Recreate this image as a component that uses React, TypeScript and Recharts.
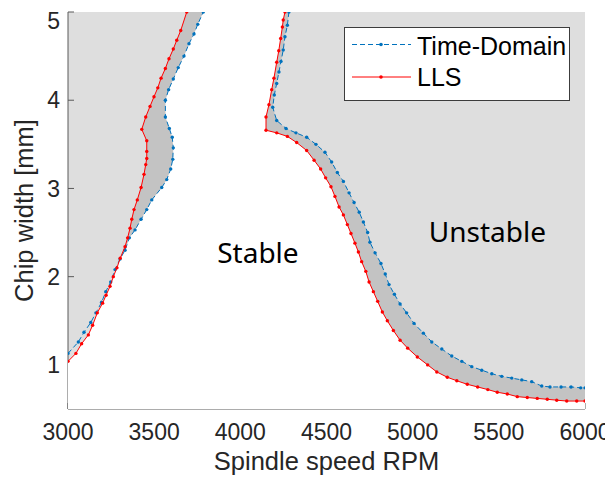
import { CartesianGrid, Legend, ReferenceDot, Scatter, ScatterChart, XAxis, YAxis } from 'recharts'

// stability lobes: [spindle speed rpm, chip width mm]
const llsLeft: [number, number][] = [
  [3000, 1.04], [3046, 1.13], [3079, 1.24], [3118, 1.34], [3143, 1.45], [3170, 1.59], [3201, 1.7],
  [3221, 1.79], [3244, 1.89], [3263, 2.0], [3284, 2.1], [3303, 2.21], [3331, 2.34], [3346, 2.44],
  [3360, 2.55], [3370, 2.65], [3383, 2.76], [3402, 2.87], [3424, 3.01], [3441, 3.16], [3451, 3.27],
  [3457, 3.34], [3457, 3.42], [3457, 3.54], [3428, 3.67], [3451, 3.81], [3476, 3.93], [3499, 4.04],
  [3521, 4.14], [3540, 4.25], [3565, 4.36], [3586, 4.47], [3611, 4.58], [3631, 4.68], [3654, 4.79],
  [3689, 5.0],
]

const tdLeft: [number, number][] = [
  [3000, 1.13], [3060, 1.26], [3093, 1.37], [3132, 1.48], [3162, 1.59], [3195, 1.71], [3219, 1.83],
  [3248, 1.94], [3273, 2.08], [3302, 2.2], [3331, 2.3], [3356, 2.44], [3389, 2.53], [3424, 2.65],
  [3457, 2.76], [3486, 2.87], [3544, 3.01], [3573, 3.1], [3596, 3.22], [3608, 3.33], [3611, 3.46],
  [3605, 3.58], [3588, 3.68], [3565, 3.81], [3565, 4.0], [3584, 4.12], [3611, 4.24], [3640, 4.37],
  [3673, 4.5], [3702, 4.64], [3731, 4.75], [3753, 4.86], [3785, 5.0],
]

const llsRight: [number, number][] = [
  [4259, 5.0], [4249, 4.91], [4244, 4.83], [4234, 4.7], [4223, 4.56], [4211, 4.43], [4195, 4.25],
  [4182, 4.12], [4166, 3.95], [4149, 3.81], [4149, 3.66], [4211, 3.63], [4273, 3.59], [4327, 3.52],
  [4385, 3.43], [4428, 3.32], [4466, 3.22], [4495, 3.12], [4526, 3.02], [4549, 2.91], [4573, 2.79],
  [4598, 2.7], [4621, 2.59], [4642, 2.49], [4665, 2.38], [4685, 2.28], [4704, 2.17], [4728, 2.06],
  [4747, 1.94], [4772, 1.83], [4797, 1.72], [4824, 1.6], [4853, 1.5], [4888, 1.39], [4927, 1.28],
  [4971, 1.19], [5027, 1.09], [5087, 1.0], [5140, 0.92], [5201, 0.86], [5256, 0.82], [5317, 0.78],
  [5377, 0.75], [5436, 0.72], [5491, 0.69], [5549, 0.67], [5607, 0.64], [5665, 0.63], [5723, 0.62],
  [5781, 0.61], [5836, 0.6], [5894, 0.59], [5952, 0.59], [6000, 0.59],
]

const tdRight: [number, number][] = [
  [4282, 5.0], [4273, 4.85], [4259, 4.72], [4249, 4.57], [4236, 4.44], [4224, 4.32], [4211, 4.19],
  [4197, 4.06], [4188, 3.92], [4211, 3.77], [4265, 3.68], [4323, 3.63], [4385, 3.58], [4439, 3.5],
  [4491, 3.41], [4530, 3.3], [4563, 3.18], [4598, 3.08], [4631, 2.95], [4660, 2.84], [4690, 2.73],
  [4714, 2.62], [4739, 2.5], [4752, 2.39], [4782, 2.27], [4816, 2.15], [4841, 2.03], [4863, 1.91],
  [4894, 1.8], [4927, 1.69], [4965, 1.59], [5008, 1.47], [5062, 1.36], [5111, 1.26], [5169, 1.18],
  [5227, 1.1], [5285, 1.04], [5343, 0.98], [5401, 0.94], [5459, 0.9], [5517, 0.87], [5575, 0.85],
  [5633, 0.83], [5691, 0.81], [5749, 0.76], [5797, 0.75], [5861, 0.75], [5919, 0.75], [5975, 0.74],
  [6000, 0.74],
]

const rpmRange = [3000, 6000]
const widthRange = [0.5, 5]
const rpmTicks = [3000, 3500, 4000, 4500, 5000, 5500, 6000]
const widthTicks = [1, 2, 3, 4, 5]
// below this width the two left-lobe predictions swap sides
const crossWidth = 2.2

const seriesNames = ['Time-Domain', 'LLS']
const regionLabels = [
  { text: 'Stable', rpm: 4102, width: 2.27 },
  { text: 'Unstable', rpm: 5434, width: 2.51 },
]

const TD_COLOR = '#0072BD'
const LLS_COLOR = '#FF0000'
const AXIS_COLOR = '#5a5a5a'
const TEXT_COLOR = '#262626'
const ARIAL = '"Liberation Sans", Arial, sans-serif'

type Pt = { rpm: number; width: number }
const pts = (c: [number, number][]): Pt[] => c.map(([rpm, width]) => ({ rpm, width }))

const stableRegion: Pt[] = [
  { rpm: rpmRange[0], width: widthRange[0] },
  ...pts(llsLeft.filter((p) => p[1] < crossWidth)),
  ...pts(tdLeft.filter((p) => p[1] >= crossWidth)),
  ...pts(llsRight),
  { rpm: rpmRange[1], width: widthRange[0] },
]
const bandLeft: Pt[] = [
  ...pts(llsLeft.filter((p) => p[1] >= crossWidth)),
  ...pts(tdLeft.filter((p) => p[1] >= crossWidth)).reverse(),
]
const bandRight: Pt[] = [...pts(llsRight), ...pts(tdRight).reverse()]

const noMarker = () => <g />
const marker = (color: string) => (p: any) => <circle cx={p.cx} cy={p.cy} r={1.7} fill={color} />

function LegendBox() {
  return (
    <svg width={226} height={74} style={{ display: 'block' }}>
      <rect x={0.5} y={0.5} width={225} height={73} fill="#fff" stroke="#3c3c3c" />
      <line x1={8} x2={67} y1={17.5} y2={17.5} stroke={TD_COLOR} strokeDasharray="5 3" />
      <circle cx={37} cy={17.5} r={1.8} fill={TD_COLOR} />
      <line x1={8} x2={67} y1={50} y2={50} stroke={LLS_COLOR} />
      <circle cx={37} cy={50} r={1.8} fill={LLS_COLOR} />
      <text x={73} y={28} fontSize={25} fontFamily={ARIAL} fill="#000">{seriesNames[0]}</text>
      <text x={73} y={59} fontSize={25} fontFamily={ARIAL} fill="#000">{seriesNames[1]}</text>
    </svg>
  )
}

export default function App() {
  const tick = { fill: TEXT_COLOR, fontSize: 23, fontFamily: ARIAL }
  return (
    <ScatterChart width={605} height={470} margin={{ top: 4, right: 28, bottom: 0, left: 0 }}>
      <CartesianGrid horizontal={false} vertical={false} fill="#dedede" />

      <Scatter data={stableRegion} dataKey="width" line={{ fill: '#ffffff', stroke: 'none' }} shape={noMarker} isAnimationActive={false} />
      <Scatter data={bandLeft} dataKey="width" line={{ fill: '#c3c3c3', stroke: 'none' }} shape={noMarker} isAnimationActive={false} />
      <Scatter data={bandRight} dataKey="width" line={{ fill: '#c3c3c3', stroke: 'none' }} shape={noMarker} isAnimationActive={false} />

      <Scatter name={seriesNames[0]} data={pts(tdLeft)} dataKey="width" line={{ stroke: TD_COLOR, strokeDasharray: '5 3' }} shape={marker(TD_COLOR)} isAnimationActive={false} />
      <Scatter name={seriesNames[0]} data={pts(tdRight)} dataKey="width" line={{ stroke: TD_COLOR, strokeDasharray: '5 3' }} shape={marker(TD_COLOR)} isAnimationActive={false} />
      <Scatter name={seriesNames[1]} data={pts(llsLeft)} dataKey="width" line={{ stroke: LLS_COLOR }} shape={marker(LLS_COLOR)} isAnimationActive={false} />
      <Scatter name={seriesNames[1]} data={pts(llsRight)} dataKey="width" line={{ stroke: LLS_COLOR }} shape={marker(LLS_COLOR)} isAnimationActive={false} />

      {regionLabels.map((r) => (
        <ReferenceDot
          key={r.text}
          x={r.rpm}
          y={r.width}
          r={0}
          fill="none"
          stroke="none"
          label={{ value: r.text, position: 'center', fontSize: 28, fill: '#000', fontFamily: '"Noto Sans", sans-serif' }}
        />
      ))}

      <XAxis
        type="number"
        dataKey="rpm"
        domain={rpmRange}
        ticks={rpmTicks}
        allowDataOverflow
        height={69}
        stroke={AXIS_COLOR}
        tickSize={-6}
        tickMargin={21}
        tick={tick}
        label={{ value: 'Spindle speed RPM', position: 'insideBottom', offset: 8, fontSize: 25.5, fill: TEXT_COLOR, fontFamily: ARIAL }}
      />
      <YAxis
        type="number"
        dataKey="width"
        domain={widthRange}
        ticks={widthTicks}
        allowDataOverflow
        width={60}
        stroke={AXIS_COLOR}
        tickSize={-6}
        tickMargin={14}
        tick={tick}
        label={{
          value: 'Chip width [mm]',
          angle: -90,
          position: 'insideLeft',
          offset: 16,
          fontSize: 25.5,
          fill: TEXT_COLOR,
          fontFamily: ARIAL,
          style: { textAnchor: 'middle' },
        }}
      />
      <XAxis xAxisId="top" orientation="top" type="number" domain={rpmRange} ticks={rpmTicks} allowDataOverflow height={0} stroke={AXIS_COLOR} tickSize={-6} tick={false} />
      <YAxis yAxisId="right" orientation="right" type="number" domain={widthRange} ticks={widthTicks} allowDataOverflow width={0} stroke={AXIS_COLOR} tickSize={-6} tick={false} />

      <Legend
        layout="horizontal"
        verticalAlign="middle"
        align="center"
        content={() => <LegendBox />}
        wrapperStyle={{ position: 'absolute', left: 336, top: 19, width: 226, height: 74 }}
      />
    </ScatterChart>
  )
}
